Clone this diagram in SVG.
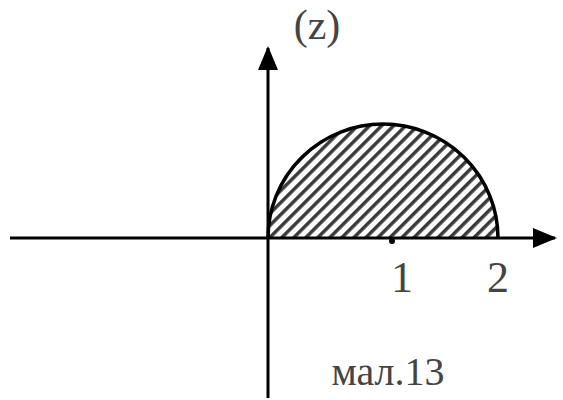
<svg xmlns="http://www.w3.org/2000/svg" width="563" height="400" viewBox="0 0 563 400">
<defs>
<pattern id="hatch" patternUnits="userSpaceOnUse" width="8.5" height="8.5" patternTransform="rotate(45)">
<line x1="0" y1="0" x2="0" y2="8.5" stroke="#3a3a3a" stroke-width="7"/>
</pattern>
<marker id="arr" viewBox="0 0 24 20" refX="22" refY="10" markerWidth="24" markerHeight="20" markerUnits="userSpaceOnUse" orient="auto">
<path d="M0,0 L24,10 L0,20 Z" fill="#000"/>
</marker>
<style>
.ax{stroke:#000;stroke-width:3;fill:none}
.lbl{font-family:"Liberation Serif",serif;fill:#444}
</style>
</defs>
<rect width="563" height="400" fill="#fff"/>
<g id="region">
<path d="M268,238 A115,114 0 0 1 498,238 Z" fill="url(#hatch)"/>
<path d="M268,238 A115,114 0 0 1 498,238" stroke="#000" stroke-width="3.5" fill="none"/>
</g>
<g id="connectors">
<line class="ax" x1="10" y1="238" x2="555" y2="238" marker-end="url(#arr)"/>
<line class="ax" x1="268" y1="398" x2="268" y2="48" marker-end="url(#arr)"/>
</g>
<g id="tick1"><circle cx="392" cy="241" r="3" fill="#000"/></g>
<g id="labels">
<text class="lbl" x="317" y="39" font-size="42" text-anchor="middle">(z)</text>
<text class="lbl" x="402" y="292" font-size="44" text-anchor="middle">1</text>
<text class="lbl" x="498" y="292" font-size="44" text-anchor="middle">2</text>
<text class="lbl" x="388" y="385" font-size="40" text-anchor="middle" fill="#555">мал.13</text>
</g>
</svg>
